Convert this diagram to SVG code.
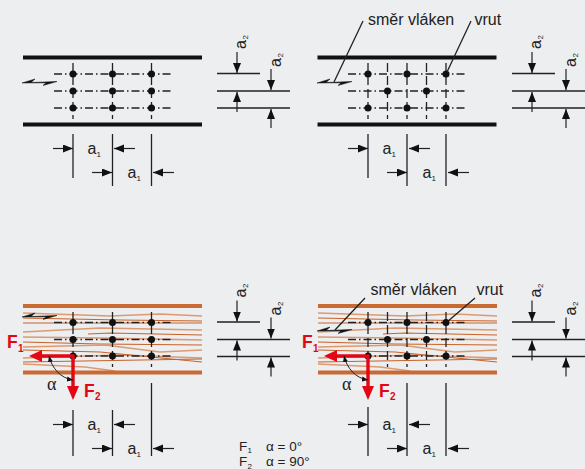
<svg xmlns="http://www.w3.org/2000/svg" width="585" height="469" viewBox="0 0 585 469">
<style>
text{font-family:"Liberation Sans",Arial,sans-serif;fill:#222}
.lbl{font-size:16px}
.sub{font-size:8px}
.bar{fill:#111}
.wood{fill:#c96a32}
.dd{stroke:#222;stroke-width:1.3;stroke-dasharray:8 3 1.5 3;fill:none}
.v{stroke:#222;stroke-width:1.3;stroke-dasharray:9 4;fill:none}
.d{fill:#111}
.z{fill:#111;stroke:#111;stroke-width:.5}
.l{stroke:#222;stroke-width:1.3;fill:none}
.a{stroke:#222;stroke-width:1.2;fill:none;marker-end:url(#ah)}
.g1{stroke:#c8622a;stroke-width:1.1;fill:none}
.g2{stroke:#dd9a70;stroke-width:1.4;fill:none}
.f{font-weight:bold;fill:#e30613;font-size:17.5px}
.fs{font-weight:bold;fill:#e30613;font-size:10px}
.red{stroke:#e30613;stroke-width:3.4;fill:none}
.t{font-size:13.5px}
</style>
<defs>
<marker id="ah" markerUnits="userSpaceOnUse" markerWidth="11" markerHeight="9" refX="10" refY="4" orient="auto"><path d="M0 0L10 4L0 8z" fill="#111"/></marker>
<marker id="as" markerUnits="userSpaceOnUse" markerWidth="7" markerHeight="6" refX="6" refY="3" orient="auto"><path d="M0 0.5L6 3L0 5.5z" fill="#111"/></marker>
<marker id="asr" markerUnits="userSpaceOnUse" markerWidth="7" markerHeight="6" refX="6" refY="3" orient="auto-start-reverse"><path d="M0 0.5L6 3L0 5.5z" fill="#111"/></marker>
<g id="dimV">
<path class="l" d="M217 73.500H260M217 91H290M217 108H290"/>
<path class="a" d="M237 52V73"/><path class="a" d="M237 112V92"/><path class="a" d="M271 69V90"/><path class="a" d="M271 128V109"/>
<text class="lbl" transform="translate(246 49) rotate(-90)">a</text>
<text class="sub" transform="translate(248 39.500) rotate(-90)">2</text>
<text class="lbl" transform="translate(280.500 67) rotate(-90)">a</text>
<text class="sub" transform="translate(282.500 57.500) rotate(-90)">2</text>
</g>
<g id="dimA">
<path class="a" d="M53 148.500H73"/><path class="a" d="M135 148.500H114"/><path class="a" d="M92 172.500H112"/><path class="a" d="M174 172.500H153"/>
<text class="lbl" x="87.500" y="154">a</text><text class="sub" x="96.500" y="157">1</text>
<text class="lbl" x="127.500" y="177.500">a</text><text class="sub" x="136.500" y="180.500">1</text>
</g>
<path id="zig" d="M22 83L35 79L31 82.500L57 81.500L43 85.500L46 82.800Z"/>
<g id="grain">
<path class="g2" d="M23 313L110 316L135 315L160 314L202 316"/>
<path class="g1" d="M23 318L120 320L202 321"/>
<path class="g1" d="M23 323L202 323"/>
<path class="g2" d="M23 332L100 328L202 330"/>
<path class="g1" d="M88 334L110 333L202 335"/>
<path class="g2" d="M23 337L100 338L202 340"/>
<path class="g1" d="M23 342L100 344L202 345"/>
<path class="g2" d="M23 347L105 345L160 352L202 350"/>
<path class="g2" d="M23 358L120 355L202 358"/>
<path class="g1" d="M23 362L202 359"/>
<path class="g1" d="M23 350L100 352L202 362"/>
<path class="g2" d="M23 364L85 367L115 371"/>
<rect class="wood" x="23" y="304" width="179" height="4"/>
<rect class="wood" x="23" y="370.500" width="179" height="4"/>
</g>
<g id="forces">
<path class="red" d="M40 356H73V387"/>
<path d="M29 356L42 350V362Z" fill="#e30613"/>
<path d="M73 400L67 386H79Z" fill="#e30613"/>
<path d="M49 356C52 368 60 378 73 380" stroke="#222" stroke-width="1" fill="none" marker-start="url(#asr)" marker-end="url(#as)"/>
<text x="47" y="390" style="font-family:'Liberation Serif',serif;font-size:18px">α</text>
</g>
</defs>
<rect width="585" height="469" fill="#eceef0"/>

<g id="panel-top-left">
<rect class="bar" x="23" y="55.500" width="179" height="4"/>
<rect class="bar" x="23" y="122.500" width="179" height="4"/>
<use href="#zig" class="z"/>
<path class="dd" d="M54 74H172M54 91H172M54 108H172"/>
<path class="v" d="M73 63V119M112.500 63V119M151.500 63V119"/>
<g class="d"><circle cx="73" cy="74" r="3.500"/><circle cx="112.500" cy="74" r="3.500"/><circle cx="151.500" cy="74" r="3.500"/><circle cx="73" cy="91" r="3.500"/><circle cx="112.500" cy="91" r="3.500"/><circle cx="151.500" cy="91" r="3.500"/><circle cx="73" cy="108" r="3.500"/><circle cx="112.500" cy="108" r="3.500"/><circle cx="151.500" cy="108" r="3.500"/></g>
<path class="l" d="M73 134V178M112.500 134V186M151.500 134V186"/>
<use href="#dimA"/><use href="#dimV"/>
</g>

<g id="panel-top-right">
<rect class="bar" x="317.500" y="55.500" width="179" height="4"/>
<rect class="bar" x="317.500" y="122.500" width="179" height="4"/>
<use href="#zig" class="z" x="295"/>
<path class="dd" d="M348 74H467M348 91H467M348 108H467"/>
<path class="v" d="M368 63V119M387.500 63V119M407 63V119M426.500 63V119M446 63V119"/>
<g class="d"><circle cx="368" cy="74" r="3.500"/><circle cx="407" cy="74" r="3.500"/><circle cx="446" cy="74" r="3.500"/><circle cx="387.500" cy="91" r="3.500"/><circle cx="426.500" cy="91" r="3.500"/><circle cx="368" cy="108" r="3.500"/><circle cx="407" cy="108" r="3.500"/><circle cx="446" cy="108" r="3.500"/></g>
<path class="l" d="M368 134V178M407 134V186M446 134V186"/>
<path class="l" d="M363 21L334 82M471 21L447 72"/>
<text class="lbl" x="368" y="25">směr vláken</text>
<text class="lbl" x="474.500" y="25">vrut</text>
<use href="#dimA" x="295"/><use href="#dimV" x="295"/>
</g>

<g id="panel-bottom-left">
<use href="#grain"/>
<use href="#zig" class="z" y="234"/>
<path class="dd" d="M54 322.500H172M54 339.500H172M54 356H172"/>
<path class="v" d="M73 312V367M112.500 312V367M151.500 312V367"/>
<g class="d"><circle cx="73" cy="322.500" r="3.500"/><circle cx="112.500" cy="322.500" r="3.500"/><circle cx="151.500" cy="322.500" r="3.500"/><circle cx="73" cy="339.500" r="3.500"/><circle cx="112.500" cy="339.500" r="3.500"/><circle cx="151.500" cy="339.500" r="3.500"/><circle cx="73" cy="356" r="3.500"/><circle cx="112.500" cy="356" r="3.500"/><circle cx="151.500" cy="356" r="3.500"/></g>
<use href="#forces"/>
<text class="f" x="7" y="348">F</text><text class="fs" x="18" y="352">1</text>
<text class="f" x="84" y="397">F</text><text class="fs" x="95" y="400">2</text>
<path class="l" d="M73 410V456M112.500 410V456M151.500 383V456"/>
<use href="#dimA" y="276"/><use href="#dimV" y="248.500"/>
</g>

<g id="panel-bottom-right">
<use href="#grain" x="295"/>
<use href="#zig" class="z" x="295" y="248"/>
<path class="l" d="M365 298L335 330M475 298L447 322"/>
<text class="lbl" x="370.500" y="295">směr vláken</text>
<text class="lbl" x="476.500" y="295">vrut</text>
<path class="dd" d="M348 322.500H467M348 339.500H467M348 356H467"/>
<path class="v" d="M368 312V367M387.500 312V367M407 312V367M426.500 312V367M446 312V367"/>
<g class="d"><circle cx="368" cy="322.500" r="3.500"/><circle cx="407" cy="322.500" r="3.500"/><circle cx="446" cy="322.500" r="3.500"/><circle cx="387.500" cy="339.500" r="3.500"/><circle cx="426.500" cy="339.500" r="3.500"/><circle cx="368" cy="356" r="3.500"/><circle cx="407" cy="356" r="3.500"/><circle cx="446" cy="356" r="3.500"/></g>
<use href="#forces" x="295"/>
<text class="f" x="302" y="348">F</text><text class="fs" x="313" y="352">1</text>
<text class="f" x="379" y="397">F</text><text class="fs" x="390" y="400">2</text>
<path class="l" d="M368 407V456M407 383V456M446 383V456"/>
<use href="#dimA" x="295" y="276"/><use href="#dimV" x="295" y="248.500"/>
</g>

<g id="legend">
<text class="t" x="239" y="451">F</text><text class="sub" x="247.500" y="453">1</text>
<text class="t" x="266" y="451">α = 0°</text>
<text class="t" x="239" y="466">F</text><text class="sub" x="247.500" y="468.500">2</text>
<text class="t" x="266" y="466">α = 90°</text>
</g>
</svg>
